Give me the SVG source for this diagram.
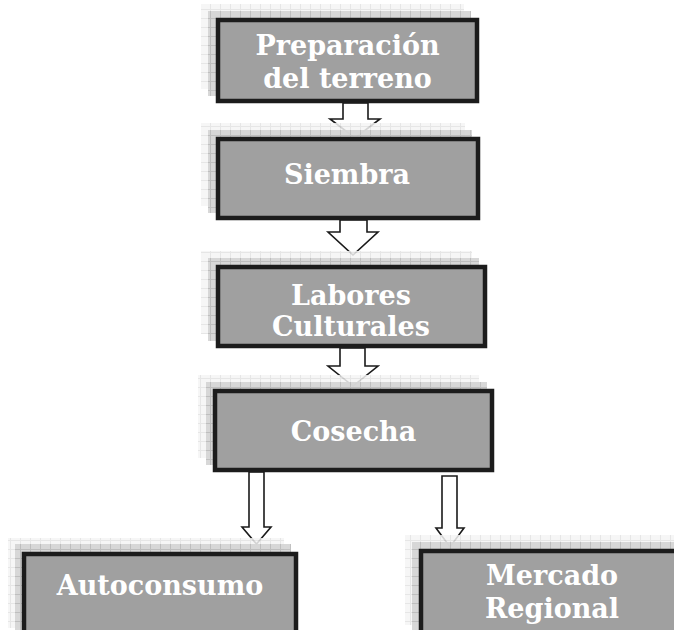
<svg xmlns="http://www.w3.org/2000/svg" width="674" height="630" viewBox="0 0 674 630">
<defs>
<pattern id="gl" width="10" height="9" patternUnits="userSpaceOnUse">
<rect width="10" height="9" fill="#f4f4f4"/>
<path d="M0 0.5H10M0.5 0V9" stroke="#e2e2e2" stroke-width="1" fill="none"/>
</pattern>
<pattern id="gd" width="10" height="9" patternUnits="userSpaceOnUse">
<rect width="10" height="9" fill="#d4d4d4"/>
<path d="M0 0.5H10M0.5 0V9" stroke="#bababa" stroke-width="1" fill="none"/>
</pattern>
<style>
.s1{fill:url(#gl);opacity:0.85}
.s2{fill:url(#gd);opacity:0.9}
.box{fill:#a0a0a0;stroke:#1c1c1c;stroke-width:4.5}
.t{font-family:"DejaVu Serif",serif;font-weight:bold;font-size:27px;fill:#ffffff;text-anchor:middle}
.arr{fill:#ffffff;stroke:#1a1a1a;stroke-width:1.6;stroke-linejoin:miter}
</style>
</defs>
<rect width="674" height="630" fill="#ffffff"/>
<g id="connectors">
<path class="arr" d="M343 103V119H330L355 138L380 119H368V103Z"/>
<path class="arr" d="M340 220V232H328L353 255L378 232H367V220Z"/>
<path class="arr" d="M340 348V366H328L353 386L378 366H365V348Z"/>
<path class="arr" d="M249 472V527H242L256.5 544L271 527H264V472Z"/>
<path class="arr" d="M442 476V528H436L450 547L464 528H457V476Z"/>
</g>
<g id="n1">
<rect class="s1" x="201" y="4" width="263" height="85"/>
<rect class="s2" x="208" y="11" width="263" height="85"/>
<rect class="box" x="218" y="20" width="259" height="81"/>
<text class="t" x="347.5" y="55">Preparación</text>
<text class="t" x="347.5" y="88">del terreno</text>
</g>
<g id="n2">
<rect class="s1" x="201" y="123" width="264" height="83"/>
<rect class="s2" x="208" y="130" width="264" height="83"/>
<rect class="box" x="218" y="139" width="260" height="79"/>
<text class="t" x="347" y="184">Siembra</text>
</g>
<g id="n3">
<rect class="s1" x="201" y="251" width="271" height="83"/>
<rect class="s2" x="208" y="258" width="271" height="83"/>
<rect class="box" x="218" y="267" width="267" height="79"/>
<text class="t" x="351" y="305">Labores</text>
<text class="t" x="351" y="336">Culturales</text>
</g>
<g id="n4">
<rect class="s1" x="198" y="375" width="281" height="83"/>
<rect class="s2" x="206" y="382" width="281" height="83"/>
<rect class="box" x="215" y="391" width="277" height="79"/>
<text class="t" x="353.5" y="441">Cosecha</text>
</g>
<g id="n5">
<rect class="s1" x="8" y="538" width="276" height="90"/>
<rect class="s2" x="15" y="544" width="276" height="90"/>
<rect class="box" x="24" y="554" width="272" height="90"/>
<text class="t" x="160" y="595">Autoconsumo</text>
</g>
<g id="n6">
<rect class="s1" x="405" y="535" width="276" height="90"/>
<rect class="s2" x="412" y="542" width="276" height="90"/>
<rect class="box" x="421" y="551" width="272" height="90"/>
<text class="t" x="552" y="585">Mercado</text>
<text class="t" x="552" y="618">Regional</text>
</g>
</svg>
